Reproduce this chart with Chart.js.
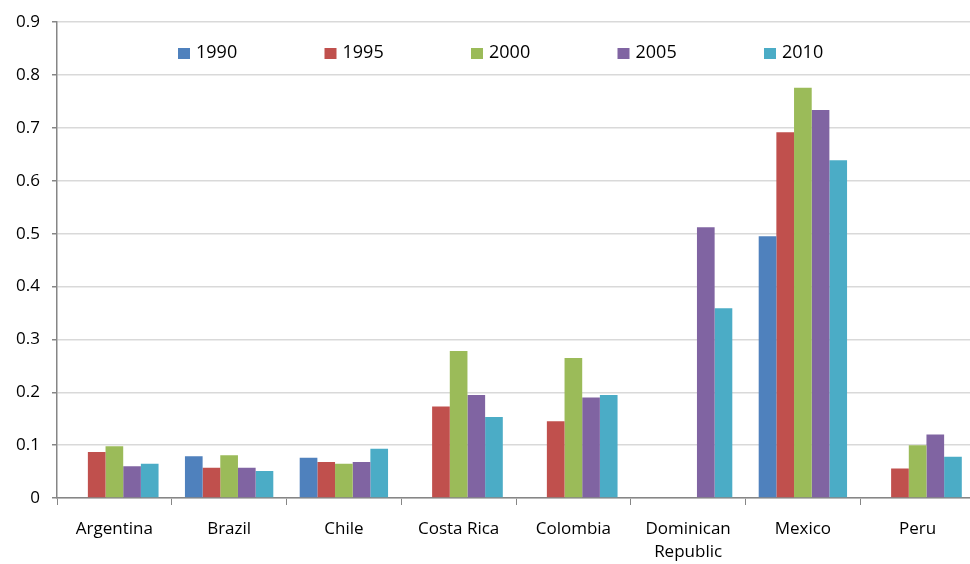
<!DOCTYPE html>
<html>
<head>
<meta charset="utf-8">
<script src="https://cdn.jsdelivr.net/npm/chart.js@4.4.1/dist/chart.umd.min.js"></script>
<style>
  html, body { margin: 0; padding: 0; background: #ffffff; overflow: hidden; }
  #wrap { width: 970px; height: 564px; overflow: hidden; }
  #chart { display: block; }
</style>
</head>
<body>
<!-- canvas is a bit wider than the view: the plot runs past the right edge, as in the reference -->
<div id="wrap"><canvas id="chart" width="975" height="564"></canvas></div>
<script>
// chart data
const countries = ["Argentina", "Brazil", "Chile", "Costa Rica", "Colombia", "Dominican Republic", "Mexico", "Peru"];
const years = ["1990", "1995", "2000", "2005", "2010"];
const values1990 = [null, 0.079, 0.076, null, null, null, 0.495, null];
const values1995 = [0.087, 0.057, 0.068, 0.173, 0.145, null, 0.692, 0.056];
const values2000 = [0.098, 0.081, 0.065, 0.278, 0.265, null, 0.776, 0.100];
const values2005 = [0.060, 0.057, 0.068, 0.195, 0.190, 0.512, 0.734, 0.120];
const values2010 = [0.065, 0.051, 0.093, 0.153, 0.195, 0.359, 0.639, 0.078];
const yTicks = [0, 0.1, 0.2, 0.3, 0.4, 0.5, 0.6, 0.7, 0.8, 0.9];

const colors = ["#4F81BD", "#C0504D", "#9BBB59", "#8064A2", "#4BACC6"];
const seriesValues = [values1990, values1995, values2000, values2005, values2010];
const FONT = "'Open Sans', 'DejaVu Sans', sans-serif";

function makeDataset(label, data, color) {
    return {
        label: label,
        data: data,
        backgroundColor: color,
        borderWidth: 0,
        categoryPercentage: 0.77,
        barPercentage: 1.0
    };
}

// legend drawn inside the plot area, like the Excel original
const insideLegend = {
    id: 'insideLegend',
    afterDatasetsDraw(chart) {
        const ctx = chart.ctx;
        ctx.save();
        ctx.font = "18px " + FONT;
        ctx.textBaseline = 'middle';
        ctx.textAlign = 'left';
        chart.data.datasets.forEach((ds, i) => {
            const x = 178 + i * 146.5;
            ctx.fillStyle = ds.backgroundColor;
            ctx.fillRect(x, 48, 12, 11);
            ctx.fillStyle = '#000000';
            ctx.fillText(ds.label, x + 18, 53);
        });
        ctx.restore();
    }
};

new Chart(document.getElementById('chart').getContext('2d'), {
    type: 'bar',
    data: {
        labels: countries,
        datasets: years.map((y, i) => makeDataset(y, seriesValues[i], colors[i]))
    },
    options: {
        responsive: false,
        animation: false,
        layout: { padding: { top: 20, right: 0, bottom: 0, left: 0 } },
        plugins: {
            legend: { display: false },
            tooltip: { enabled: false }
        },
        scales: {
            x: {
                afterFit(scale) { scale.height = 66; },
                grid: {
                    offset: true,
                    drawOnChartArea: false,
                    color: '#868686',
                    tickLength: 7
                },
                border: { color: '#868686', width: 1.5 },
                ticks: {
                    color: '#000000',
                    font: { family: FONT, size: 17, lineHeight: 1.35 },
                    padding: 13,
                    maxRotation: 0,
                    autoSkip: false,
                    callback: function (value) {
                        const name = this.getLabelForValue(value);
                        return name.length > 12 ? name.split(' ') : name;
                    }
                }
            },
            y: {
                min: 0,
                max: 0.9,
                afterFit(scale) { scale.width = 57; },
                afterBuildTicks(scale) {
                    scale.ticks = yTicks.map(v => ({ value: v }));
                },
                grid: {
                    color: '#d9d9d9',
                    lineWidth: 1.5,
                    tickColor: '#868686',
                    tickLength: 5
                },
                border: { color: '#868686', width: 1.5 },
                ticks: {
                    color: '#000000',
                    font: { family: FONT, size: 17 },
                    padding: 12,
                    callback: v => String(Math.round(v * 10) / 10)
                }
            }
        }
    },
    plugins: [insideLegend]
});
</script>
</body>
</html>
